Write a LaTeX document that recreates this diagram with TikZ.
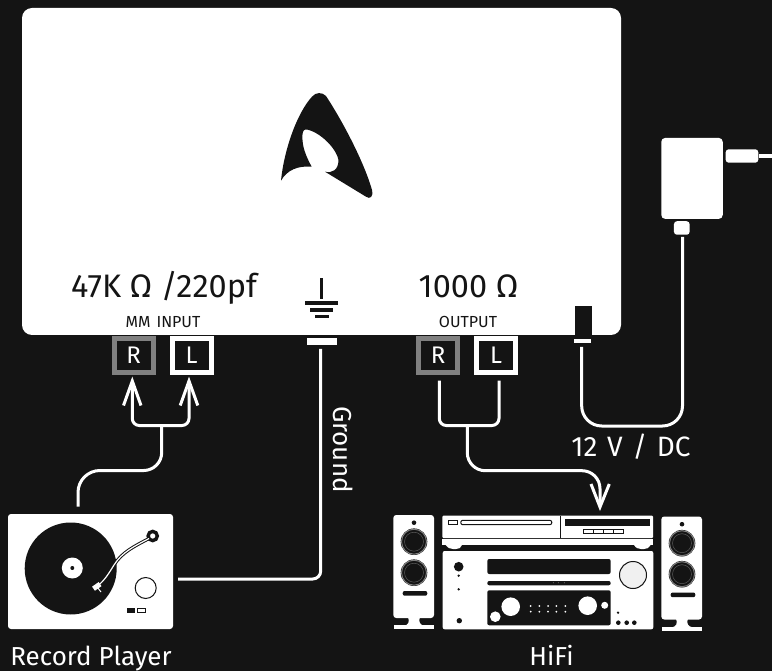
\documentclass[tikz,border=0pt]{standalone}
\usepackage{fontspec}
\setmainfont{Fira Sans}
\definecolor{bgc}{HTML}{141414}
\definecolor{grayc}{HTML}{808080}
\newcommand{\fs}[1]{\fontsize{#1}{#1}\selectfont}
\tikzset{
  wire/.style={draw=white,line width=3pt},
  port/.style={draw,fill=bgc,line width=5pt,minimum width=39pt,minimum height=34pt,inner sep=0,text=white,font=\fs{24}},
  lbl/.style={text=white,inner sep=0,font=\fs{26}},
  darklbl/.style={text=bgc,inner sep=0,font=\fs{32.5}},
  smalllbl/.style={text=bgc,inner sep=0,font=\fs{16}},
  arrowhd/.style={draw=white,line width=3pt,line join=miter,fill=none},
  wh/.style={fill=white,draw=none},
  bk/.style={fill=bgc,draw=none},
}
\begin{document}
\begin{tikzpicture}[x=1pt,y=-1pt]
\useasboundingbox[fill=bgc] (0,0) rectangle (772,671);
% main panel
\node[wh,rounded corners=10pt,minimum width=599pt,minimum height=327pt,inner sep=0] (panel) at (321.5,171.5) {};
% logo
\fill[bgc] (281,180.7) .. controls (284,150) and (297,113) .. (312,96.7)
  .. controls (316,92) and (322,92) .. (326,96)
  .. controls (345,125) and (365,165) .. (372,190)
  .. controls (373.5,197) and (370,199.5) .. (366,196.7)
  -- (325,171.7) .. controls (332,173.5) and (338.5,170) .. (338.5,160)
  .. controls (337,150) and (322,133) .. (307,129.5)
  .. controls (303,129) and (302,132) .. (302.5,140)
  .. controls (303,150) and (308,160) .. (311.7,166.7)
  .. controls (298,165.5) and (287,170) .. (281,180.7) -- cycle;
% panel text
\node[darklbl,anchor=base] (t47) at (164,298) {47K Ω /220pf};
\node[darklbl,anchor=base] (t1000) at (468.5,298) {1000 Ω};
\node[smalllbl,anchor=base] (tmm) at (163,328) {MM\hspace{6pt}INPUT};
\node[smalllbl,anchor=base] (tout) at (468,328) {OUTPUT};
% ground symbol
\fill[bgc] (320.3,278) rectangle (323.2,299);
\fill[bgc] (305,301) rectangle (338,305);
\fill[bgc] (310,308) rectangle (333,312);
\fill[bgc] (315,315) rectangle (329,318);
% DC plug
\fill[bgc] (575,306) rectangle (592,336);
\node[wh,minimum width=17pt,minimum height=4pt,inner sep=0] (dcbar) at (582.5,341) {};
\node[wh,minimum width=30pt,minimum height=7pt,inner sep=0] (gndbar) at (322,341.5) {};
% ports
\node[port,draw=grayc] (inR) at (133.7,355.5) {R};
\node[port,draw=white] (inL) at (191.5,355.5) {L};
\node[port,draw=grayc] (outR) at (438.2,355.5) {R};
\node[port,draw=white] (outL) at (496.2,355.5) {L};
% input wires
\draw[wire,rounded corners=7pt] (132.3,382) -- (132.3,425.5) -- (189,425.5) -- (189,382);
\draw[arrowhd] (123.5,405.5) -- (132.3,381) -- (141,405.5);
\draw[arrowhd] (180.2,405.5) -- (189,381) -- (197.8,405.5);
\coordinate (jin) at (161.7,425.5);
\draw[wire] (78,506.7) [rounded corners=22pt] -- (78,470.5) [rounded corners=18pt] -- (161.7,470.5) -- (jin);
% output wires
\draw[wire,rounded corners=7pt] (439.3,380.7) -- (439.3,425.5) -- (499,425.5) -- (499,380.7);
\coordinate (jout) at (467.3,425.5);
\draw[wire,rounded corners=18pt] (jout) -- (467.3,470.7) -- (600,470.7) -- (600,505);
\draw[arrowhd] (591,484) -- (600,507) -- (609.3,484);
% ground wire
\draw[wire,rounded corners=8pt] (320.7,349) -- (320.7,579) -- (178,579);
\node[lbl,rotate=-90,anchor=base,font=\fs{26}] (tg) at (333.5,449.5) {Ground};
% DC wire
\draw[wire,rounded corners=20pt] (581.7,347) -- (581.7,426) -- (682.5,426) -- (682.5,237);
\node[lbl,anchor=base,font=\fs{28}] (t12) at (631,456) {\spaceskip=9.8pt 12 V / DC};
% adapter
\node[wh,rounded corners=4pt,minimum width=61.5pt,minimum height=81pt,inner sep=0] (ad) at (692,178.4) {};
\node[wh,rounded corners=3pt,minimum width=15.7pt,minimum height=13.5pt,inner sep=0] (adb) at (681.8,228) {};
\node[wh,rounded corners=3pt,minimum width=32.6pt,minimum height=13.4pt,inner sep=0] (ads) at (742,156) {};
\coordinate (pl) at (772,156);
\draw[white,line width=4pt] (759,156) -- (pl);
% turntable
\node[wh,rounded corners=3pt,minimum width=165pt,minimum height=115pt,inner sep=0] (tt) at (90.5,571.5) {};
\fill[bgc] (70.7,568.5) circle (46);
\fill[white] (72.3,568) circle (10.5);
\fill[bgc] (72.3,568) circle (2);
\draw[bgc,line width=3.4pt] (152.7,536) circle (4.6);
\draw[bgc,line width=3.2pt] (149,538.5) .. controls (135,546) and (122,552) .. (114,565) .. controls (109,573) and (105,580) .. (98,585.5);
\draw[white,line width=1.2pt] (149,538.5) .. controls (135,546) and (122,552) .. (114,565) .. controls (109,573) and (105,580) .. (98,585.5);
\fill[white,rotate around={35:(96.5,586)}] (92.5,584) rectangle (100.5,589);
\draw[white,line width=1pt] (98,588) -- (101,592);
\draw[bgc,line width=1pt] (145.7,588) circle (10.5);
\fill[bgc] (127.3,607.7) rectangle (135.3,612.7);
\draw[bgc,line width=.8pt] (137.7,607.9) rectangle (145.2,612.5);
\node[lbl,anchor=base] (trp) at (91,665) {Record Player};
% speakers
\newcommand{\speaker}[2]{%
\begin{scope}[shift={(#1,#2)}]
\fill[white,rounded corners=3pt] (393.3,515) rectangle (434,618);
\fill[white] (394.3,625) rectangle (434,629.3);
\fill[white] (408,617) .. controls (410,622) and (408,625) .. (404,626) -- (425,626) .. controls (420,625) and (418,622) .. (420,617) -- cycle;
\fill[bgc] (414,522.7) circle (2.3);
\foreach \yy in {541.7,572.7}{
  \fill[bgc] (414,\yy) circle (13.3);
  \draw[gray,line width=1pt] (414,\yy) circle (12.5);
  \draw[gray!70!black,line width=.5pt] (414,\yy) circle (9.5);
}
\fill[bgc,rounded corners=2pt] (402.7,591) rectangle (427.3,595.7);
\end{scope}}
\speaker{0}{0}
\speaker{268}{1.5}
% CD unit
\fill[white,rounded corners=1pt] (442.3,515.7) rectangle (653,538);
\draw[bgc,line width=1pt,fill=none] (448.5,520.3) rectangle (457.3,524.7);
\draw[bgc,line width=1pt,rounded corners=2pt] (460.8,520.3) rectangle (551.8,524.7);
\draw[bgc,line width=1pt] (560.5,515.7) -- (560.5,538);
\fill[bgc] (564.5,519) rectangle (650.3,526);
\draw[bgc,line width=.8pt] (583.5,529.5) rectangle (623.3,533.5);
\foreach \xx in {593.5,603.5,613.5} \draw[bgc,line width=.8pt] (\xx,529.5) -- (\xx,533.5);
\fill[white] (442,539) rectangle (653,545);
\fill[white] (445.7,545) .. controls (448,548) and (450,549) .. (453,549) -- (456,549) .. controls (459,549) and (461,548) .. (462,545) -- cycle;
\fill[white] (634,545) .. controls (636,548) and (638,549) .. (641,549) -- (644,549) .. controls (647,549) and (649,548) .. (650.7,545) -- cycle;
% amp
\fill[white,rounded corners=2pt] (442.7,551) rectangle (653.3,629.3);
\fill[bgc] (458.7,566.7) circle (4.8);
\fill[bgc] (458.7,575.7) circle (1.3);
\fill[bgc] (458.7,589.3) circle (1.3);
\fill[bgc] (459.3,620.7) circle (2.7);
\fill[bgc,rounded corners=2pt] (487.3,559) rectangle (610.7,574);
\fill[bgc,rounded corners=2pt] (487.3,581) rectangle (610.7,585.3);
\foreach \xx in {553.3,558.3,564.3} \fill[gray] (\xx,582.8) circle (.5);
\fill[bgc,rounded corners=2pt] (487.3,590.3) rectangle (610.7,625.3);
\fill[white!94!black,draw=bgc,line width=1pt] (633,575) circle (13.5);
\fill[white] (510.7,606.7) circle (9.3);
\fill[white] (587.7,605.7) circle (9.3);
\fill[white] (495.3,616.7) circle (5.3);
\fill[white] (604.7,605.3) circle (3.5);
\foreach \xx in {530.7,539.3,548,556.3,565.3} \foreach \yy in {606,611.7} \fill[white] (\xx,\yy) circle (1);
\fill[bgc] (618,612.7) circle (1.3);
\foreach \xx in {618.3,626.7,634.3} \fill[bgc] (\xx,622.7) circle (2.3);
\node[lbl,anchor=base] (thf) at (551.5,665) {HiFi};
\end{tikzpicture}
\end{document}
